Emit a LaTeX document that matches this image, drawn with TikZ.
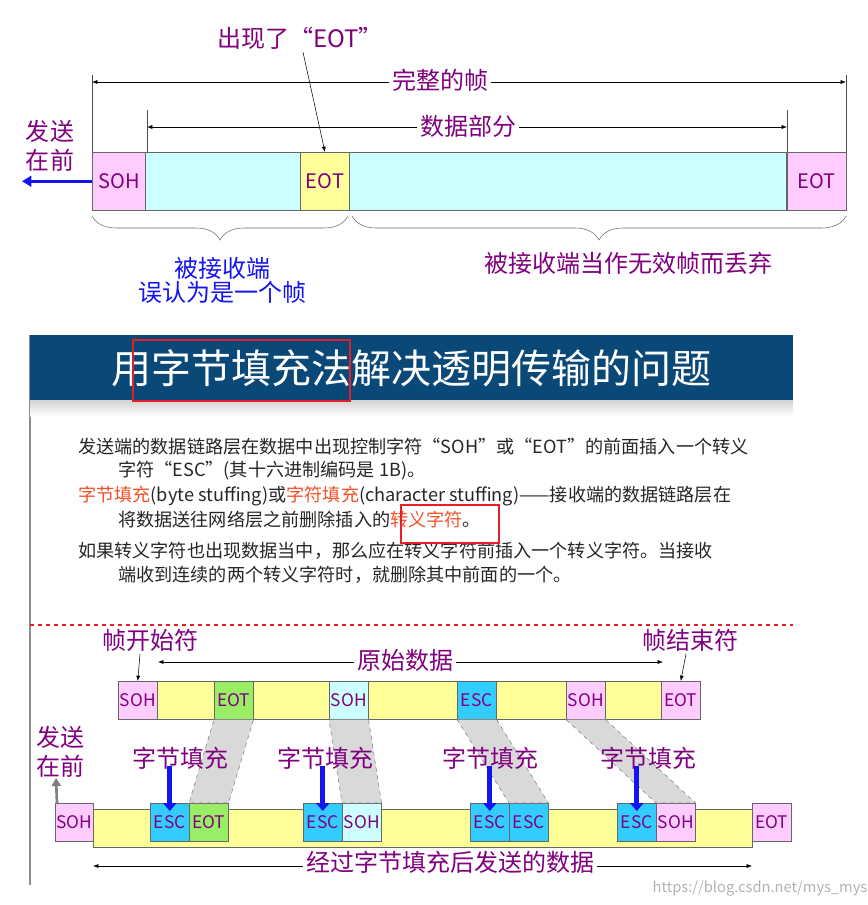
\documentclass[tikz,border=0pt]{standalone}
\usepackage{fontspec}
\setmainfont{Noto Sans CJK SC}
\usetikzlibrary{decorations.pathreplacing,arrows.meta}
\definecolor{pur}{RGB}{128,0,128}
\definecolor{blu}{RGB}{20,20,240}
\definecolor{pk}{RGB}{255,204,255}
\definecolor{cy}{RGB}{204,255,255}
\definecolor{ye}{RGB}{255,255,153}
\definecolor{gr}{RGB}{153,238,102}
\definecolor{es}{RGB}{51,204,255}
\definecolor{hdr}{RGB}{10,72,120}
\definecolor{rd}{RGB}{230,30,40}
\definecolor{orn}{RGB}{245,80,40}
\tikzset{
 cell/.style={draw=black!60,minimum height=28.5pt,inner sep=0pt,font=\fontsize{13}{13}\selectfont,text=pur},
 lbl/.style={text=pur,font=\fontsize{18}{18}\selectfont,fill=white,inner sep=2pt},
 dim/.style={{Latex[length=4pt]}-{Latex[length=4pt]},thin},
 tick/.style={thin,black!70},
 para/.style={anchor=west,font=\fontsize{13.6}{13.6}\selectfont,text=black!85,inner sep=0pt},
 trap/.style={fill=black!15,draw=black!50,dashed},
 blar/.style={-{Triangle[length=6pt,width=10pt]},line width=3.5pt,blu}
}
\begin{document}
\begin{tikzpicture}[x=0.75pt,y=-0.75pt]
\useasboundingbox (0,0) rectangle (867,905);
% ---------- top ----------
\node[lbl] (eotnote) at (300,38) {出现了“EOT”};
\foreach \n/\x/\a in {t1/92/75,t2/147/110,t3/787/110,t4/846/75}{\coordinate (\n a) at (\x,\a); \coordinate (\n b) at (\x,152); \draw[tick] (\n a)--(\n b);}
\coordinate (f1) at (92,82); \coordinate (f2) at (846,82);
\draw[dim] (f1)--(f2);
\node[lbl] (whole) at (440,80) {完整的帧};
\coordinate (d1) at (147,127); \coordinate (d2) at (787,127);
\draw[dim] (d1)--(d2);
\node[lbl] (datap) at (468,126) {数据部分};
\tikzset{tc/.style={cell,minimum height=43.5pt,anchor=north west,font=\fontsize{15}{15}\selectfont}}
\node[tc,fill=pk,minimum width=40pt] (s1) at (92,152) {SOH};
\node[tc,fill=cy,minimum width=116pt] (c1) at (145,152) {};
\node[tc,fill=ye,minimum width=37pt] (e1) at (300,152) {EOT};
\node[tc,fill=cy,minimum width=328pt] (c2) at (349,152) {};
\node[tc,fill=pk,minimum width=44pt] (e2) at (787,152) {EOT};
\draw[-{Latex[length=4pt]},thin] (eotnote.south) ++(3,0) -- (e1.north);
\node[lbl,inner sep=0pt,align=center] (send1) at (50,146) {发送\\[4pt]在前};
\coordinate (arrL) at (22,183);
\draw[-{Triangle[length=7pt,width=8pt]},line width=2.5pt,blu] (s1.west) -- (s1.west -| arrL);
\draw[decorate,decoration={brace,mirror,amplitude=18pt},black!60] (92,216)--(348,216);
\draw[decorate,decoration={brace,mirror,amplitude=18pt},black!60] (352,216)--(846,216);
\node[lbl,text=blu,align=center] (recv1) at (222,280) {被接收端\\误认为是一个帧};
\node[lbl] (recv2) at (628,263) {被接收端当作无效帧而丢弃};
% ---------- slide ----------
\draw[black!45,line width=1.5pt] (30,335)--(30,885);
\shade[top color=black!18,bottom color=white] (30,400) rectangle (793,416);
\fill[hdr] (30,335) rectangle (793,400);
\node[text=white,font=\fontsize{30}{30}\selectfont] (title) at (411,368) {用字节填充法解决透明传输的问题};
\draw[rd,line width=1.5pt] (133,340) rectangle (350,401);
\node[para] (p1) at (78,447) {发送端的数据链路层在数据中出现控制字符“SOH”或“EOT”的前面插入一个转义};
\node[para] (p2) at (118,471) {字符“ESC”(其十六进制编码是 1B)。};
\node[para] (p3) at (78,496) {\textcolor{orn}{字节填充}(byte stuffing)或\textcolor{orn}{字符填充}(character stuffing)——接收端的数据链路层在};
\node[para] (p4) at (118,520) {将数据送往网络层之前删除插入的\textcolor{orn}{转义字符}。};
\node[para] (p5) at (78,551) {如果转义字符也出现数据当中，那么应在转义字符前插入一个转义字符。当接收};
\node[para] (p6) at (118,575) {端收到连续的两个转义字符时，就删除其中前面的一个。};
\draw[rd,line width=1.5pt] (401,505) rectangle (499,543);
\draw[rd,dashed,thick] (30,625)--(793,625);
% ---------- bottom ----------
\node[lbl] (start) at (150,640) {帧开始符};
\node[lbl] (endc) at (690,640) {帧结束符};
\coordinate (o1) at (158,662); \coordinate (o2) at (663,662);
\draw[dim] (o1)--(o2);
\node[lbl] (orig) at (405,660) {原始数据};
\tikzset{r1/.style={cell,anchor=north west,minimum height=28.5pt}}
\node[r1,fill=ye,minimum width=378pt] (ybar) at (157,681) {};
\foreach \n/\x/\c/\t in {a1/118/pk/SOH,a2/214/gr/EOT,a3/329/cy/SOH,a4/457/es/ESC,a5/566/pk/SOH,a6/661/pk/EOT}
  \node[r1,fill=\c,minimum width=29.25pt] (\n) at (\x,681) {\t};
\draw[-{Latex[length=4pt]},thin] (start.south) ++(-10,0) -- (a1.north);
\draw[-{Latex[length=4pt]},thin] (endc.south) ++(-4,0) -- (a6.north);
% bottom row
\node[r1,fill=ye,minimum width=494pt] (ybar2) at (93,809) {};
\node[r1,fill=pk,minimum width=28.5pt] (b0) at (55,803) {SOH};
\node[r1,fill=pk,minimum width=29.25pt] (b9) at (752,803) {EOT};
\foreach \n/\x/\c/\t in {b1/150/es/ESC,b2/189/gr/EOT,b3/303/es/ESC,b4/342/cy/SOH,b5/470/es/ESC,b6/509/es/ESC,b7/617/es/ESC,b8/656/pk/SOH}
  \node[r1,fill=\c,minimum width=29.25pt] (\n) at (\x,803) {\t};
% trapezoids
\foreach \u/\d in {a2/b2,a3/b4,a4/b6,a5/b8}
  \draw[trap] (\u.south west)--(\u.south east)--(\d.north east)--(\d.north west)--cycle;
\foreach \i/\x/\b in {1/180/b1,2/325/b3,3/490/b5,4/648/b7}{
  \node[lbl,fill=none] (st\i) at (\x,758) {字节填充};
  \coordinate (ar\i) at ([yshift=28pt]\b.north);
  \draw[blar] (ar\i) -- ([yshift=-6pt]\b.north);
}
\node[lbl,fill=none,align=center,inner sep=0pt] (send2) at (60,752) {发送\\[4pt]在前};
\coordinate (up) at (56,778);
\draw[-{Triangle[length=6pt,width=7pt]},line width=2pt,black!50] (b0.north west) ++(2,0) -- (up);
\coordinate (g1) at (93,866); \coordinate (g2) at (752,866);
\draw[dim] (g1)--(g2);
\node[lbl] (sent) at (450,862) {经过字节填充后发送的数据};
\node[text=black!30,font=\fontsize{11}{11}\selectfont] (wm) at (760,888) {https://blog.csdn.net/mys\_mys};
\end{tikzpicture}
\end{document}
